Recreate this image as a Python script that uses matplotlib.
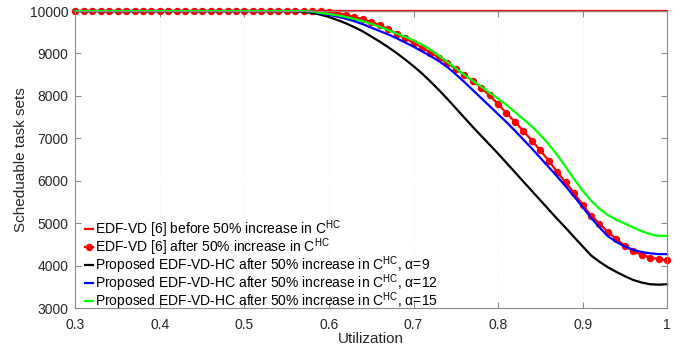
import numpy as np
import matplotlib
matplotlib.use('Agg')
import matplotlib.pyplot as plt

plt.rcParams['font.family'] = ['Liberation Sans', 'DejaVu Sans']
plt.rcParams['mathtext.fontset'] = 'custom'
plt.rcParams['mathtext.rm'] = 'Liberation Sans'

# Utilization grid (0.30 .. 1.00, step 0.01)
util = np.round(np.arange(30, 101) / 100, 2)

# Values from 0.56 .. 1.00 (all curves are 10000 below 0.56)
flat = [10000] * 26

before = [10000] * 71

after = flat + [
    10000, 9998, 9995, 9990, 9980, 9950, 9910, 9860, 9810, 9740,
    9670, 9575, 9470, 9360, 9250, 9140, 9020, 8900, 8770, 8640,
    8500, 8355, 8195, 8010, 7805, 7595, 7385, 7175, 6945, 6715,
    6470, 6205, 5960, 5710, 5435, 5180, 4990, 4790, 4630, 4460,
    4350, 4250, 4190, 4155, 4120]

alpha9 = flat + [
    9995, 9980, 9955, 9915, 9860, 9790, 9710, 9620, 9520, 9400,
    9280, 9150, 9010, 8860, 8700, 8530, 8340, 8140, 7930, 7710,
    7490, 7270, 7060, 6850, 6640, 6420, 6200, 5980, 5760, 5540,
    5320, 5100, 4890, 4670, 4455, 4240, 4090, 3960, 3850, 3750,
    3660, 3600, 3560, 3550, 3560]

alpha12 = flat + [
    10000, 10000, 9985, 9945, 9910, 9870, 9820, 9760, 9690, 9610,
    9530, 9450, 9360, 9260, 9160, 9050, 8940, 8820, 8680, 8510,
    8330, 8140, 7950, 7760, 7570, 7380, 7180, 6970, 6760, 6540,
    6320, 6100, 5870, 5630, 5380, 5130, 4900, 4690, 4560, 4450,
    4370, 4320, 4290, 4270, 4270]

alpha15 = flat + [
    10000, 9998, 9990, 9955, 9930, 9900, 9860, 9815, 9760, 9700,
    9630, 9550, 9470, 9395, 9310, 9210, 9090, 8950, 8800, 8650,
    8500, 8360, 8220, 8070, 7940, 7790, 7620, 7450, 7280, 7080,
    6860, 6610, 6330, 6040, 5770, 5530, 5340, 5190, 5080, 4990,
    4900, 4810, 4740, 4700, 4700]

labels = [
    'EDF-VD [6] before 50% increase in C$^{\\mathrm{HC}}$',
    'EDF-VD [6] after 50% increase in C$^{\\mathrm{HC}}$',
    'Proposed EDF-VD-HC after 50% increase in C$^{\\mathrm{HC}}$, \u03b1=9',
    'Proposed EDF-VD-HC after 50% increase in C$^{\\mathrm{HC}}$, \u03b1=12',
    'Proposed EDF-VD-HC after 50% increase in C$^{\\mathrm{HC}}$, \u03b1=15',
]

xticks = [0.3, 0.4, 0.5, 0.6, 0.7, 0.8, 0.9, 1.0]
xticklabels = ['0.3', '0.4', '0.5', '0.6', '0.7', '0.8', '0.9', '1']
yticks = [3000, 4000, 5000, 6000, 7000, 8000, 9000, 10000]

fig = plt.figure(figsize=(6.92, 3.51), dpi=100)
ax = fig.add_axes([0.109, 0.1225, 0.855, 0.846])

lw = 1.6
ax.plot(util, before, '-', color='#ff0000', lw=lw, label=labels[0],
        clip_on=False)
ax.plot(util, after, '-', color='#ff0000', lw=lw, marker='o',
        markersize=4.3, label=labels[1], clip_on=False)
ax.plot(util, alpha9, '-', color='black', lw=lw, label=labels[2],
        clip_on=False)
ax.plot(util, alpha12, '-', color='#0000ff', lw=lw, label=labels[3],
        clip_on=False)
ax.plot(util, alpha15, '-', color='#00ff00', lw=lw, label=labels[4],
        clip_on=False)

ax.set_xlim(0.3, 1.0)
ax.set_ylim(3000, 10000)
ax.set_xticks(xticks)
ax.set_xticklabels(xticklabels)
ax.set_yticks(yticks)
ax.grid(axis='x', color='#eeeeee', linestyle=':', lw=0.6)

for s in ax.spines.values():
    s.set_color('#8c8c8c')
    s.set_linewidth(0.8)
ax.tick_params(direction='in', top=True, right=True, length=4,
               color='#8c8c8c', labelcolor='#262626', labelsize=10,
               width=0.8)
ax.tick_params(axis='x', pad=7)
ax.tick_params(axis='y', pad=5)

ax.set_xlabel('Utilization', fontsize=11, color='#262626', labelpad=0)
ax.set_ylabel('Scheduable task sets', fontsize=11, color='#262626',
              labelpad=1)

# tight rows as in the original; superscripts make the text boxes touch
ax.legend(loc='lower left', bbox_to_anchor=(0.0, -0.045), frameon=False,
          fontsize=10, handlelength=0.55, handletextpad=0.15,
          labelspacing=-0.27, borderaxespad=0.3)

plt.savefig('out.png', dpi=100)
